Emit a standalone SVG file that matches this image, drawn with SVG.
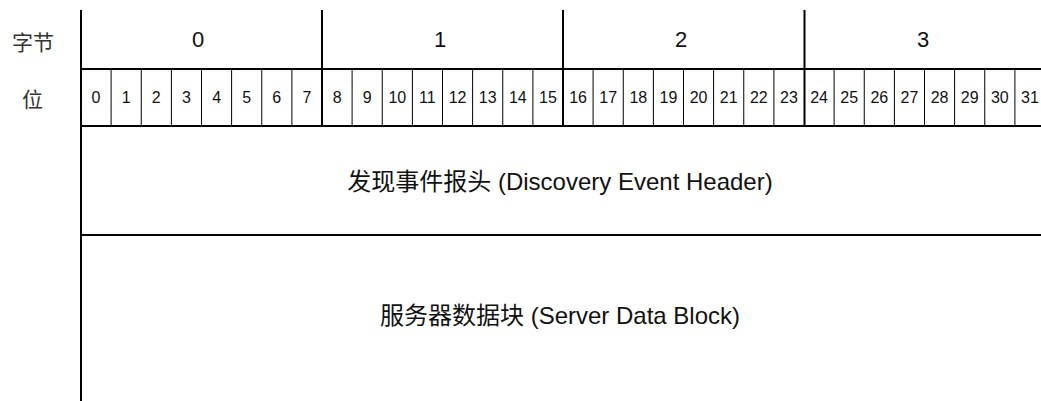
<svg xmlns="http://www.w3.org/2000/svg" width="1041" height="401" viewBox="0 0 1041 401">
<style>
.ln{stroke:#000;stroke-width:2;fill:none}
.th{stroke:#000;stroke-width:1;fill:none}
.t{font-family:"Liberation Sans","Noto Sans CJK SC",sans-serif;fill:#111;text-anchor:middle}
.big{font-size:22px}
.bit{font-size:16px}
.mid{font-size:24px}
.cjk{font-family:"Noto Sans CJK SC","Liberation Sans",sans-serif;font-size:21px;fill:#333;text-anchor:middle}
</style>
<rect width="1041" height="401" fill="#fff"/>
<g id="connectors">
<line class="ln" x1="81" y1="10" x2="81" y2="401"/>
<line class="ln" x1="81" y1="69" x2="1041" y2="69"/>
<line class="ln" x1="81" y1="126" x2="1041" y2="126"/>
<line class="ln" x1="81" y1="235" x2="1041" y2="235"/>
<line class="ln" x1="322" y1="10" x2="322" y2="126"/>
<line class="ln" x1="563" y1="10" x2="563" y2="126"/>
<line class="ln" x1="804.5" y1="10" x2="804.5" y2="126"/>
<path class="th" d="M111.1 69V126M141.25 69V126M171.4 69V126M201.5 69V126M231.6 69V126M261.75 69V126M291.9 69V126M352.1 69V126M382.25 69V126M412.4 69V126M442.5 69V126M472.6 69V126M502.75 69V126M532.9 69V126M593.1 69V126M623.25 69V126M653.4 69V126M683.5 69V126M713.6 69V126M743.75 69V126M773.9 69V126M834.1 69V126M864.25 69V126M894.4 69V126M924.5 69V126M954.6 69V126M984.75 69V126M1014.9 69V126"/>
</g>
<g id="row-labels">
<text class="cjk" x="33" y="50">字节</text>
<text class="cjk" x="32.5" y="106.5">位</text>
</g>
<g id="bytes" class="t big">
<text x="198" y="46.5">0</text>
<text x="440" y="46.5">1</text>
<text x="681" y="46.5">2</text>
<text x="923" y="46.5">3</text>
</g>
<g id="bits" class="t bit">
<text x="96" y="103">0</text>
<text x="126.2" y="103">1</text>
<text x="156.3" y="103">2</text>
<text x="186.4" y="103">3</text>
<text x="216.6" y="103">4</text>
<text x="246.7" y="103">5</text>
<text x="276.8" y="103">6</text>
<text x="306.9" y="103">7</text>
<text x="337.1" y="103">8</text>
<text x="367.2" y="103">9</text>
<text x="397.3" y="103">10</text>
<text x="427.4" y="103">11</text>
<text x="457.6" y="103">12</text>
<text x="487.7" y="103">13</text>
<text x="517.8" y="103">14</text>
<text x="547.9" y="103">15</text>
<text x="578.1" y="103">16</text>
<text x="608.2" y="103">17</text>
<text x="638.3" y="103">18</text>
<text x="668.4" y="103">19</text>
<text x="698.6" y="103">20</text>
<text x="728.7" y="103">21</text>
<text x="758.8" y="103">22</text>
<text x="788.9" y="103">23</text>
<text x="819.1" y="103">24</text>
<text x="849.2" y="103">25</text>
<text x="879.3" y="103">26</text>
<text x="909.4" y="103">27</text>
<text x="939.6" y="103">28</text>
<text x="969.7" y="103">29</text>
<text x="999.8" y="103">30</text>
<text x="1029.9" y="103">31</text>
</g>
<g id="header">
<text class="t mid" x="560" y="189.5">发现事件报头 (Discovery Event Header)</text>
</g>
<g id="server-data">
<text class="t mid" x="560" y="324">服务器数据块 (Server Data Block)</text>
</g>
</svg>
